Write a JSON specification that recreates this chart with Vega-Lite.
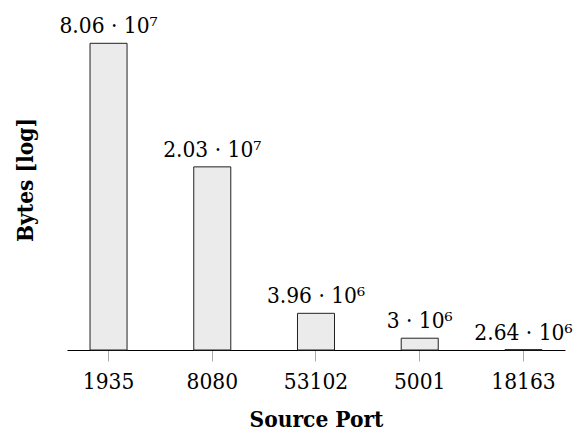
{
  "$schema": "https://vega.github.io/schema/vega-lite/v6.json",
  "autosize": "none",
  "width": 498,
  "height": 341,
  "padding": {"left": 67, "top": 9, "right": 16, "bottom": 82},
  "background": "white",
  "config": {"view": {"stroke": null}},
  "data": {
    "values": [
      {"port": "1935", "bytes": 80600000, "label": "8.06 · 10⁷"},
      {"port": "8080", "bytes": 20300000, "label": "2.03 · 10⁷"},
      {"port": "53102", "bytes": 3960000, "label": "3.96 · 10⁶"},
      {"port": "5001", "bytes": 3000000, "label": "3 · 10⁶"},
      {"port": "18163", "bytes": 2640000, "label": "2.64 · 10⁶"}
    ]
  },
  "encoding": {
    "x": {
      "field": "port",
      "type": "nominal",
      "sort": null,
      "scale": {"paddingInner": 0.643, "paddingOuter": 0.222},
      "axis": {
        "title": "Source Port",
        "labelAngle": 0,
        "labelFont": "DejaVu Serif Condensed, DejaVu Serif",
        "labelFontSize": 22.5,
        "labelColor": "black",
        "labelPadding": 9,
        "domainColor": "black",
        "domainWidth": 1,
        "tickColor": "#aaaaaa",
        "tickSize": 11,
        "tickWidth": 1,
        "titleFont": "DejaVu Serif Condensed, DejaVu Serif",
        "titleFontSize": 22.5,
        "titleFontWeight": "bold",
        "titleColor": "black",
        "titlePadding": 16
      }
    },
    "y": {
      "field": "bytes",
      "type": "quantitative",
      "scale": {"type": "log", "domain": [2630000, 118200000], "nice": false},
      "axis": {
        "title": "Bytes [log]",
        "domain": false,
        "ticks": false,
        "labels": false,
        "grid": false,
        "titleFont": "DejaVu Serif Condensed, DejaVu Serif",
        "titleFontSize": 22.5,
        "titleFontWeight": "bold",
        "titleColor": "black",
        "titlePadding": 30
      }
    }
  },
  "layer": [
    {
      "mark": {"type": "bar", "fill": "#ebebeb", "stroke": "#222222", "strokeWidth": 1},
      "encoding": {"y2": {"datum": 2630000}}
    },
    {
      "mark": {
        "type": "text",
        "font": "DejaVu Serif Condensed, DejaVu Serif",
        "fontSize": 22.5,
        "baseline": "alphabetic",
        "align": "center",
        "dy": -10,
        "color": "black"
      },
      "encoding": {"text": {"field": "label"}}
    }
  ]
}
